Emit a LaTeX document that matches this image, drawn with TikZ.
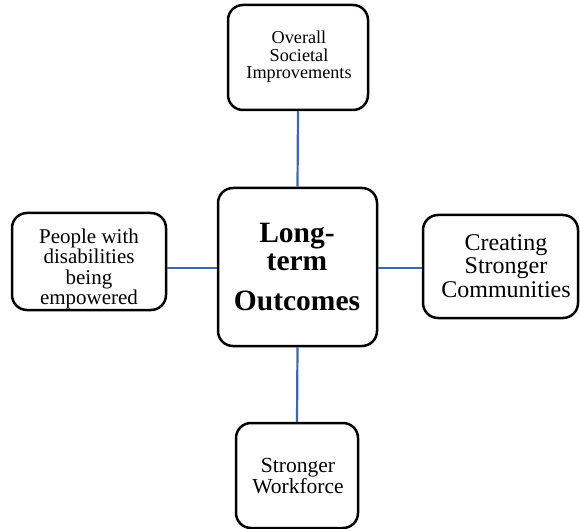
\documentclass[tikz,border=0pt]{standalone}
\usepackage{fontspec}
\setmainfont{Liberation Serif}
\begin{document}
\begin{tikzpicture}[x=1pt,y=-1pt,
  box/.style={draw=black, line width=2.5pt, rounded corners=15pt, fill=white,
    inner sep=0pt},
  txt/.style={align=center, inner sep=0pt},
  link/.style={draw=linkblue, line width=2.2pt}]
\definecolor{linkblue}{RGB}{62,102,180}
\useasboundingbox (0,0) rectangle (580,529);

% outer boxes
\node[box, minimum width=140pt, minimum height=105pt] (top) at (298,57.5) {};
\node[box, minimum width=154pt, minimum height=97pt] (left) at (89,261.5) {};
\node[box, minimum width=155pt, minimum height=103pt] (right) at (500.5,266.5) {};
\node[box, minimum width=122pt, minimum height=105pt] (bottom) at (297,475.5) {};

% central box
\node[box, minimum width=159pt, minimum height=158pt] (center) at (297.5,267) {};

% box texts
\node[txt, font=\fontsize{18.2}{17.5}\selectfont] (toptext) at (299,57)
  {Overall\\Societal\\Improvements};
\node[txt, font=\fontsize{21}{20.5}\selectfont] (lefttext) at (89,269)
  {People with\\disabilities\\being\\empowered};
\node[txt, font=\fontsize{24}{23.5}\selectfont] (righttext) at (506,266)
  {Creating\\Stronger\\Communities};
\node[txt, font=\fontsize{21.5}{20.5}\selectfont] (bottomtext) at (298,476)
  {Stronger\\Workforce};
\node[txt, font=\fontsize{29.5}{28}\selectfont\bfseries] (centertext) at (297,267)
  {Long-\\term\\[12pt]Outcomes};

% connectors
\draw[link] (top.south) -- (center.north);
\draw[link] (center.south) -- (bottom.north);
\draw[link] (left.east |- 0,268) -- (center.west |- 0,268);
\draw[link] (center.east |- 0,268) -- (right.west |- 0,268);
\end{tikzpicture}
\end{document}
